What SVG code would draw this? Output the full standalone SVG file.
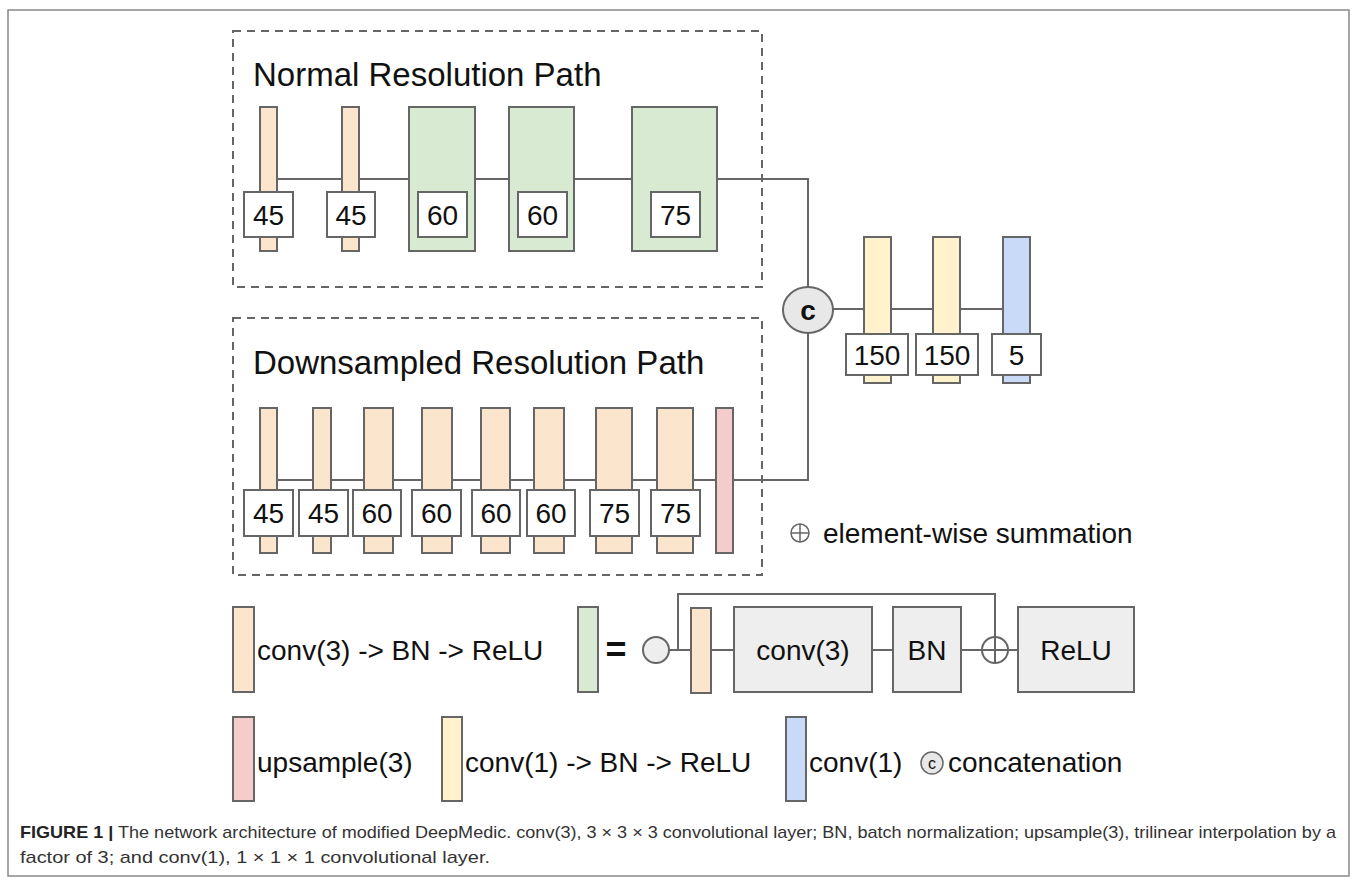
<svg xmlns="http://www.w3.org/2000/svg" width="1358" height="889" viewBox="0 0 1358 889">
<style>
.t{font-family:"Liberation Sans",Arial,sans-serif;fill:#111}
.num{font-size:28px;text-anchor:middle}
.title{font-size:33px}
.leg{font-size:28px}
.bx{stroke:#666;stroke-width:2}
.peach{fill:#fce5cd}
.green{fill:#d9ead3}
.yellow{fill:#fff2cc}
.blue{fill:#c9daf8}
.pink{fill:#f4cccc}
.gray{fill:#eeeeee}
.lbl{fill:#fff;stroke:#666;stroke-width:2}
.dash{fill:none;stroke:#666;stroke-width:2;stroke-dasharray:8 6}
.ln{fill:none;stroke:#666;stroke-width:2}
.cap{font-family:"Liberation Sans",Arial,sans-serif;font-size:17px;fill:#333}
</style>
<rect x="8" y="10" width="1341" height="866" fill="#fff" stroke="#888" stroke-width="1.5"/>

<g id="connectors">
<path class="ln" d="M268 179 H808 V287"/>
<path class="ln" d="M268 480 H808 V333"/>
<path class="ln" d="M833 309 H1016"/>
<path class="ln" d="M669 650 H691 M711 650 H734 M872 650 H893 M961 650 H982 M1008 650 H1018"/>
<path class="ln" d="M678 650 V594 H995 V637"/>
</g>

<g id="normal-path">
<rect class="dash" x="233" y="31" width="529" height="256"/>
<text class="t title" x="253" y="86">Normal Resolution Path</text>
</g>
<g id="n1"><rect class="bx peach" x="260" y="107" width="17" height="144"/><rect class="lbl" x="244" y="192" width="49" height="45"/><text class="t num" x="268.5" y="225">45</text></g>
<g id="n2"><rect class="bx peach" x="342" y="107" width="17" height="144"/><rect class="lbl" x="327" y="192" width="48" height="45"/><text class="t num" x="351" y="225">45</text></g>
<g id="n3"><rect class="bx green" x="409" y="107" width="66" height="144"/><rect class="lbl" x="418" y="192" width="49" height="45"/><text class="t num" x="442.5" y="225">60</text></g>
<g id="n4"><rect class="bx green" x="509" y="107" width="65" height="144"/><rect class="lbl" x="518" y="192" width="49" height="45"/><text class="t num" x="542.5" y="225">60</text></g>
<g id="n5"><rect class="bx green" x="632" y="107" width="85" height="144"/><rect class="lbl" x="651" y="192" width="49" height="45"/><text class="t num" x="675.5" y="225">75</text></g>

<g id="down-path">
<rect class="dash" x="233" y="318" width="529" height="257"/>
<text class="t title" x="253" y="374">Downsampled Resolution Path</text>
</g>
<g id="d1"><rect class="bx peach" x="260" y="408" width="17" height="145"/><rect class="lbl" x="244" y="490" width="49" height="46"/><text class="t num" x="268.5" y="523">45</text></g>
<g id="d2"><rect class="bx peach" x="313" y="408" width="18" height="145"/><rect class="lbl" x="299" y="490" width="49" height="46"/><text class="t num" x="323.5" y="523">45</text></g>
<g id="d3"><rect class="bx peach" x="364" y="408" width="29" height="145"/><rect class="lbl" x="353" y="490" width="48" height="46"/><text class="t num" x="377" y="523">60</text></g>
<g id="d4"><rect class="bx peach" x="422" y="408" width="30" height="145"/><rect class="lbl" x="412" y="490" width="49" height="46"/><text class="t num" x="436.5" y="523">60</text></g>
<g id="d5"><rect class="bx peach" x="481" y="408" width="29" height="145"/><rect class="lbl" x="472" y="490" width="48" height="46"/><text class="t num" x="496" y="523">60</text></g>
<g id="d6"><rect class="bx peach" x="534" y="408" width="30" height="145"/><rect class="lbl" x="527" y="490" width="48" height="46"/><text class="t num" x="551" y="523">60</text></g>
<g id="d7"><rect class="bx peach" x="596" y="408" width="36" height="145"/><rect class="lbl" x="590" y="490" width="49" height="46"/><text class="t num" x="614.5" y="523">75</text></g>
<g id="d8"><rect class="bx peach" x="657" y="408" width="36" height="145"/><rect class="lbl" x="651" y="490" width="49" height="46"/><text class="t num" x="675.5" y="523">75</text></g>
<g id="d9"><rect class="bx pink" x="716" y="408" width="17" height="145"/></g>

<g id="concat"><ellipse class="bx" fill="#e8e8e8" cx="808" cy="310" rx="25" ry="23"/><text class="t num" x="808" y="320" font-weight="bold" font-size="26">c</text></g>
<g id="r1"><rect class="bx yellow" x="864" y="237" width="27" height="146"/><rect class="lbl" x="846" y="334" width="62" height="41"/><text class="t num" x="877" y="365">150</text></g>
<g id="r2"><rect class="bx yellow" x="933" y="237" width="27" height="146"/><rect class="lbl" x="916" y="334" width="62" height="41"/><text class="t num" x="947" y="365">150</text></g>
<g id="r3"><rect class="bx blue" x="1003" y="237" width="27" height="146"/><rect class="lbl" x="992" y="334" width="49" height="41"/><text class="t num" x="1016.5" y="365">5</text></g>

<g id="sum-legend">
<circle cx="800" cy="533" r="9" fill="none" stroke="#666" stroke-width="1.5"/>
<path d="M791 533 H809 M800 524 V542" stroke="#666" stroke-width="1.5"/>
<text class="t leg" x="823" y="543">element-wise summation</text>
</g>

<g id="legend-conv3"><rect class="bx peach" x="233" y="607" width="21" height="85"/><text class="t leg" x="257" y="660">conv(3) -&gt; BN -&gt; ReLU</text></g>
<g id="legend-res">
<rect class="bx green" x="578" y="607" width="20" height="85"/>
<text class="t" x="616" y="662" font-size="36" font-weight="bold" text-anchor="middle">=</text>
<circle class="bx gray" cx="656" cy="650" r="13"/>
<rect class="bx peach" x="691" y="608" width="20" height="85"/>
<rect class="bx gray" x="734" y="607" width="138" height="85"/><text class="t leg" x="803" y="660" text-anchor="middle">conv(3)</text>
<rect class="bx gray" x="893" y="607" width="68" height="85"/><text class="t leg" x="927" y="660" text-anchor="middle">BN</text>
<circle cx="995" cy="650" r="13" fill="#fff" stroke="#666" stroke-width="2"/>
<path d="M982 650 H1008 M995 637 V663" stroke="#666" stroke-width="2"/>
<rect class="bx gray" x="1018" y="607" width="116" height="85"/><text class="t leg" x="1076" y="660" text-anchor="middle">ReLU</text>
</g>

<g id="legend-up"><rect class="bx pink" x="233" y="717" width="21" height="84"/><text class="t leg" x="257" y="772">upsample(3)</text></g>
<g id="legend-conv1bn"><rect class="bx yellow" x="442" y="717" width="20" height="84"/><text class="t leg" x="465" y="772">conv(1) -&gt; BN -&gt; ReLU</text></g>
<g id="legend-conv1"><rect class="bx blue" x="786" y="717" width="20" height="84"/><text class="t leg" x="809" y="772">conv(1)</text></g>
<g id="legend-concat"><circle cx="932" cy="763" r="11" fill="#e8e8e8" stroke="#666" stroke-width="1.5"/><text class="t" x="932" y="769" font-size="16" text-anchor="middle">c</text><text class="t leg" x="948" y="772">concatenation</text></g>

<g id="caption">
<text class="cap" x="20" y="838" textLength="1316" lengthAdjust="spacingAndGlyphs"><tspan font-weight="bold" fill="#222">FIGURE 1 |</tspan> The network architecture of modified DeepMedic. conv(3), 3 × 3 × 3 convolutional layer; BN, batch normalization; upsample(3), trilinear interpolation by a</text>
<text class="cap" x="20" y="863" textLength="470" lengthAdjust="spacingAndGlyphs">factor of 3; and conv(1), 1 × 1 × 1 convolutional layer.</text>
</g>
</svg>
